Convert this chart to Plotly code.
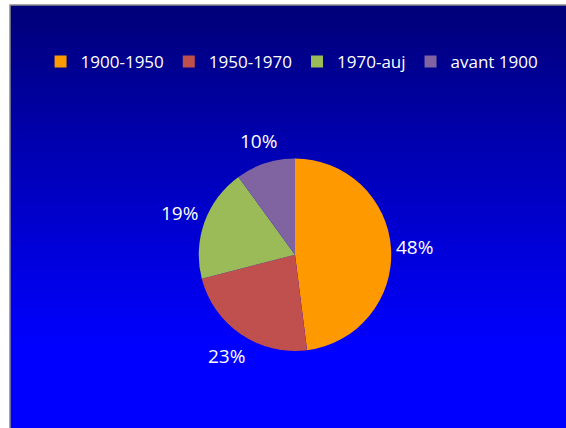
import math
import plotly.graph_objects as go

labels = ["1900-1950", "1950-1970", "1970-auj", "avant 1900"]
values = [48, 23, 19, 10]
colors = ["#FF9900", "#C0504D", "#9BBB59", "#8064A2"]

W, H = 566, 428
# pie geometry (pixels)
cx, cy, R = 295, 254.75, 96.25
fig = go.Figure()

fig.add_trace(go.Pie(
    labels=labels, values=values, sort=False, direction="clockwise", rotation=0,
    marker=dict(colors=colors, line=dict(width=0)),
    textinfo="none",
    domain=dict(x=[(cx - R) / W, (cx + R) / W], y=[1 - (cy + R) / H, 1 - (cy - R) / H]),
    showlegend=True,
))

# percentage labels placed outside each slice, derived from the values
total = sum(values)
annotations = []
cum = 0
for v in values:
    mid = (cum + v / 2) / total * 2 * math.pi
    cum += v
    s, c = math.sin(mid), math.cos(mid)
    d = R + 5 + 18 * abs(s) + 13 * abs(c)
    px = cx + d * s
    py = cy - d * c
    annotations.append(dict(x=px / W, y=1 - py / H, xref="paper", yref="paper",
                            text=f"{round(v / total * 100)}%", showarrow=False,
                            xanchor="center", yanchor="middle",
                            font=dict(color="white", size=19, family="Open Sans")))

shapes = []
x0 = 10 / W
y_top = 1 - 5 / H
n = 60
for i in range(n):
    t0 = i / n
    t1 = (i + 1) / n
    f = (t0 + t1) / 2
    b = int(120 + (255 - 120) * min(1.0, f / 0.8))
    shapes.append(dict(type="rect", xref="paper", yref="paper", layer="below",
                       x0=x0, x1=1, y0=max(0, y_top - t1 * y_top - 0.004),
                       y1=y_top - t0 * y_top,
                       fillcolor=f"rgb(0,0,{b})", line=dict(width=0)))
shapes.append(dict(type="rect", xref="paper", yref="paper", layer="below",
                   x0=x0, x1=1.01, y0=-0.01, y1=y_top,
                   line=dict(color="#8a8a8a", width=1.5), fillcolor="rgba(0,0,0,0)"))

fig.update_layout(
    width=W, height=H, margin=dict(l=0, r=0, t=0, b=0),
    paper_bgcolor="white", plot_bgcolor="white",
    shapes=shapes, annotations=annotations,
    legend=dict(orientation="h", x=0.516, xanchor="center", y=1 - 62 / H, yanchor="middle",
                font=dict(color="white", size=17, family="Open Sans"),
                bgcolor="rgba(0,0,0,0)", itemwidth=30, tracegroupgap=0),
)

fig.write_html("out.html", config={"displayModeBar": False},
               post_script="document.body.style.margin='0';")
